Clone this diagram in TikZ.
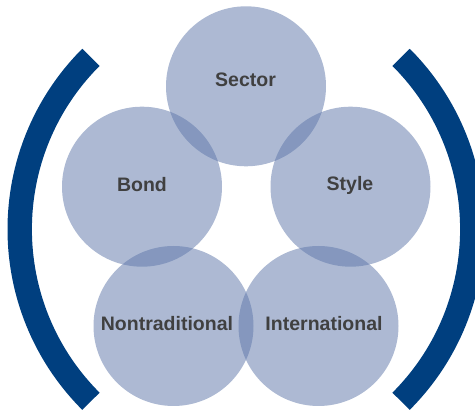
\documentclass[tikz,border=0pt]{standalone}
\usepackage{fontspec}
\setmainfont{Liberation Sans}
\definecolor{bracketblue}{RGB}{0,63,127}
\definecolor{bubble}{RGB}{94,118,169}
\definecolor{labelgray}{RGB}{64,64,64}
\begin{document}
\begin{tikzpicture}[x=1pt,y=1pt,
  bubblenode/.style={circle,minimum size=160pt,inner sep=0pt,fill=bubble,fill opacity=0.51,draw=none},
  bubbletext/.style={text=labelgray,font=\fontsize{19.5}{23}\selectfont\bfseries,inner sep=0pt},
  bracketarc/.style={draw=bracketblue,line width=24.4pt,line cap=butt}]
\useasboundingbox (0,0) rectangle (475,412);
% enclosing brackets
\begin{scope}
  \clip (0,0) rectangle (475,412);
  \draw[bracketarc] (262.9,182.7) ++(135:243.2) arc[start angle=135,end angle=225,radius=243.2];
  \draw[bracketarc] (229.1,182.7) ++(45:243.2) arc[start angle=45,end angle=-45,radius=243.2];
\end{scope}
% overlapping bubbles
\node[bubblenode] (sector) at (246,325.7) {};
\node[bubblenode] (bond) at (142,225.3) {};
\node[bubblenode] (style) at (350.5,225.3) {};
\node[bubblenode] (nontrad) at (173.5,86) {};
\node[bubblenode] (intl) at (318.5,86) {};
% labels
\node[bubbletext] (tsector) at (245.5,332) {Sector};
\node[bubbletext] (tbond) at (142,227.5) {Bond};
\node[bubbletext] (tstyle) at (350,226.5) {Style};
\node[bubbletext] (tnontrad) at (167,88) {Nontraditional};
\node[bubbletext] (tintl) at (324,88) {International};
\end{tikzpicture}
\end{document}
